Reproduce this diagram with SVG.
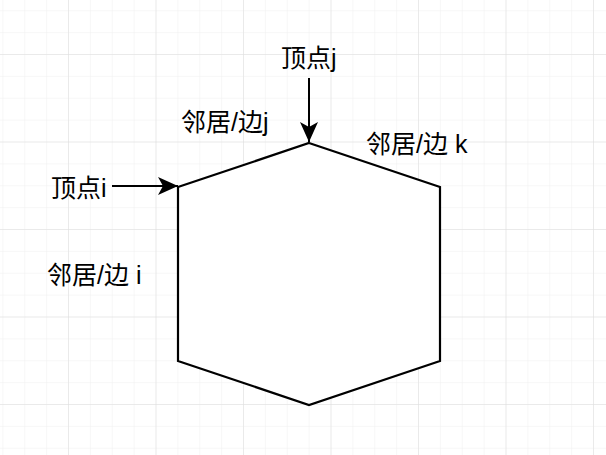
<svg xmlns="http://www.w3.org/2000/svg" width="606" height="455" viewBox="0 0 606 455">
<defs>
<pattern id="minor" x="2.4" y="10.25" width="21.875" height="21.875" patternUnits="userSpaceOnUse">
<path d="M0 0H21.875M0 0V21.875" fill="none" stroke="#f0f0f0" stroke-width="1"/>
</pattern>
<pattern id="major" x="68" y="54" width="87.5" height="87.5" patternUnits="userSpaceOnUse">
<path d="M0 0H87.5M0 0V87.5" fill="none" stroke="#dedede" stroke-width="1"/>
</pattern>
<marker id="arr" viewBox="0 0 20 20" refX="20" refY="10" markerWidth="20" markerHeight="20" markerUnits="userSpaceOnUse" orient="auto">
<path d="M0 1L20 10L0 19L5 10Z" fill="#000"/>
</marker>
<style>
.lbl{font-family:"Liberation Sans","Noto Sans CJK SC",sans-serif;font-size:25px;fill:#000}
.edge{stroke:#000;stroke-width:2;fill:none}
</style>
</defs>
<rect width="606" height="455" fill="#fff"/>
<rect width="606" height="455" fill="url(#minor)"/>
<rect width="606" height="455" fill="url(#major)"/>
<g id="hexagon">
<polygon points="309,143 440,187 440,361 309,405 178,361 178,187" fill="#fff" stroke="#000" stroke-width="2.2"/>
</g>
<g id="connectors">
<line class="edge" x1="309" y1="78" x2="309" y2="142" marker-end="url(#arr)"/>
<line class="edge" x1="112" y1="186" x2="178" y2="186" marker-end="url(#arr)"/>
</g>
<g id="label-vertex-j"><text class="lbl" x="281" y="67">顶点j</text></g>
<g id="label-edge-j"><text class="lbl" x="181" y="131">邻居/边j</text></g>
<g id="label-edge-k"><text class="lbl" x="366" y="153">邻居/边 k</text></g>
<g id="label-vertex-i"><text class="lbl" x="51" y="197">顶点i</text></g>
<g id="label-edge-i"><text class="lbl" x="47" y="284">邻居/边 i</text></g>
</svg>
